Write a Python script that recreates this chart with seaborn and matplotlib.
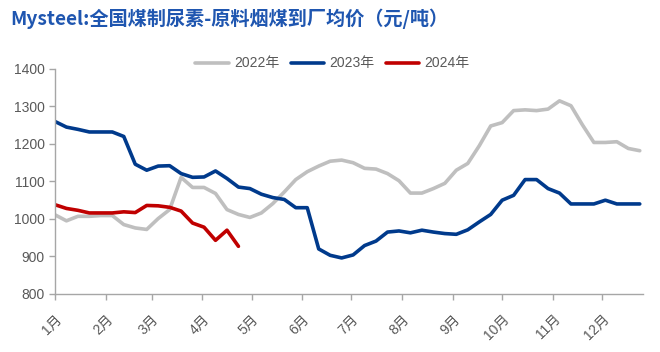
import numpy as np
import pandas as pd
import matplotlib
matplotlib.use("Agg")
import matplotlib.pyplot as plt
import seaborn as sns

# weekly prices, yuan/ton
price_2022 = [1011, 995, 1007, 1007, 1009, 1009, 985, 976, 972, 1001, 1025, 1111, 1084,
              1084, 1068, 1025, 1012, 1004, 1016, 1041, 1072, 1105, 1126, 1141, 1154, 1157,
              1150, 1135, 1133, 1121, 1102, 1069, 1069, 1081, 1095, 1130, 1148, 1195, 1248,
              1257, 1289, 1291, 1289, 1293, 1315, 1302, 1251, 1204, 1204, 1206, 1188, 1182]
price_2023 = [1260, 1245, 1239, 1232, 1232, 1232, 1220, 1146, 1130, 1141, 1142, 1121, 1111,
              1112, 1128, 1108, 1085, 1081, 1066, 1057, 1052, 1030, 1030, 920, 903, 896,
              904, 929, 941, 965, 968, 963, 970, 965, 961, 959, 971, 992, 1012, 1050,
              1063, 1105, 1105, 1081, 1069, 1040, 1040, 1040, 1050, 1040, 1040, 1040]
price_2024 = [1038, 1028, 1023, 1016, 1016, 1016, 1019, 1017, 1036, 1035, 1031, 1021, 989,
              978, 943, 970, 927]

series_names = ['2022年', '2023年', '2024年']
series_colors = ['#bfbfbf', '#003a8c', '#c00000']
month_labels = [f'{m}月' for m in range(1, 13)]
month_start_day = [0, 31, 59, 90, 120, 151, 181, 212, 243, 273, 304, 334]

rows = []
for name, vals in zip(series_names, [price_2022, price_2023, price_2024]):
    for i, v in enumerate(vals):
        rows.append({'day': i * 7, 'price': v, 'year': name})
df = pd.DataFrame(rows)

sns.set_theme(style='white')
plt.rcParams['font.family'] = ['Liberation Sans', 'Noto Sans CJK SC', 'DejaVu Sans']

fig = plt.figure(figsize=(6.6, 3.52), dpi=100)
ax = fig.add_axes([0.0833, 0.165, 0.891, 0.639])

sns.lineplot(data=df, x='day', y='price', hue='year', palette=series_colors,
             hue_order=series_names, linewidth=2.6, ax=ax)

ax.set_xlim(0, 359)
ax.set_ylim(800, 1400)
ax.set_yticks(range(800, 1401, 100))
ax.set_xticks(month_start_day)
ax.set_xticklabels(month_labels, rotation=45, ha='right', rotation_mode='anchor')
ax.set_xlabel('')
ax.set_ylabel('')

grey_txt = '#595959'
ax.tick_params(axis='both', colors='#a6a6a6', labelcolor=grey_txt, labelsize=10,
               direction='out', length=4, width=1)
ax.tick_params(axis='x', pad=9)
ax.tick_params(left=True, bottom=True)
for s in ['top', 'right']:
    ax.spines[s].set_visible(False)
for s in ['left', 'bottom']:
    ax.spines[s].set_color('#a6a6a6')
    ax.spines[s].set_linewidth(1)

ax.legend(loc='center', bbox_to_anchor=(0.472, 1.025), ncol=3, frameon=False,
          fontsize=10, labelcolor=grey_txt, handlelength=2.4, handletextpad=0.4,
          columnspacing=0.8, borderaxespad=0)

fig.text(0.015, 0.948, 'Mysteel:全国煤制尿素-原料烟煤到厂均价（元/吨）',
         family=['Noto Sans CJK SC', 'DejaVu Sans'], fontsize=13.8, fontweight='bold',
         color='#1f56b0', va='center', ha='left')

fig.savefig('out.png', dpi=100)
